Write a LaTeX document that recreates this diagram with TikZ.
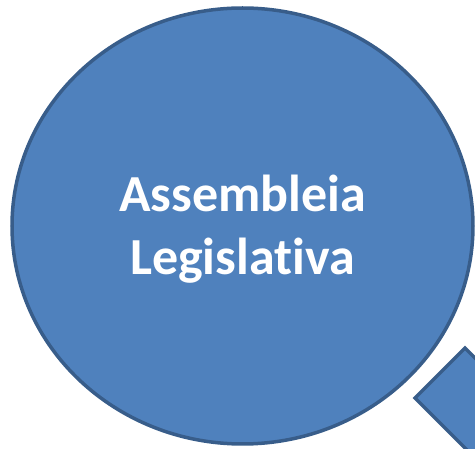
\documentclass[tikz,border=0pt]{standalone}
\usepackage{fontspec}
\setmainfont[Ligatures=NoCommon]{Carlito}
\usetikzlibrary{shapes.geometric}

\definecolor{lensblue}{HTML}{4F81BD}
\definecolor{lensedge}{HTML}{385D8A}

\tikzset{
  lens/.style={ellipse, draw=lensedge, fill=lensblue, line width=3.5pt,
    minimum width=461pt, minimum height=436pt, inner sep=0pt,
    text=white, align=center, font=\bfseries\fontsize{52}{63}\selectfont},
  handle/.style={draw=lensedge, fill=lensblue, line width=3.5pt, line join=miter}
}

\begin{document}
\begin{tikzpicture}[x=1pt,y=-1pt]
  \useasboundingbox (0,0) rectangle (475,449);
  \clip (0,0) rectangle (475,449);

  % Handle of the glass
  \draw[handle] (465,348) -- (415,398) -- (535,518) -- (585,468) -- cycle;

  % Lens
  \node[lens] (assembleia) at (242.5,226) {};
  \node[text=white, align=center, font=\bfseries\fontsize{52}{63}\selectfont]
    (titulo) at ([yshift=-3pt]assembleia.center) {Assembleia\\Legislativa};

\end{tikzpicture}
\end{document}
